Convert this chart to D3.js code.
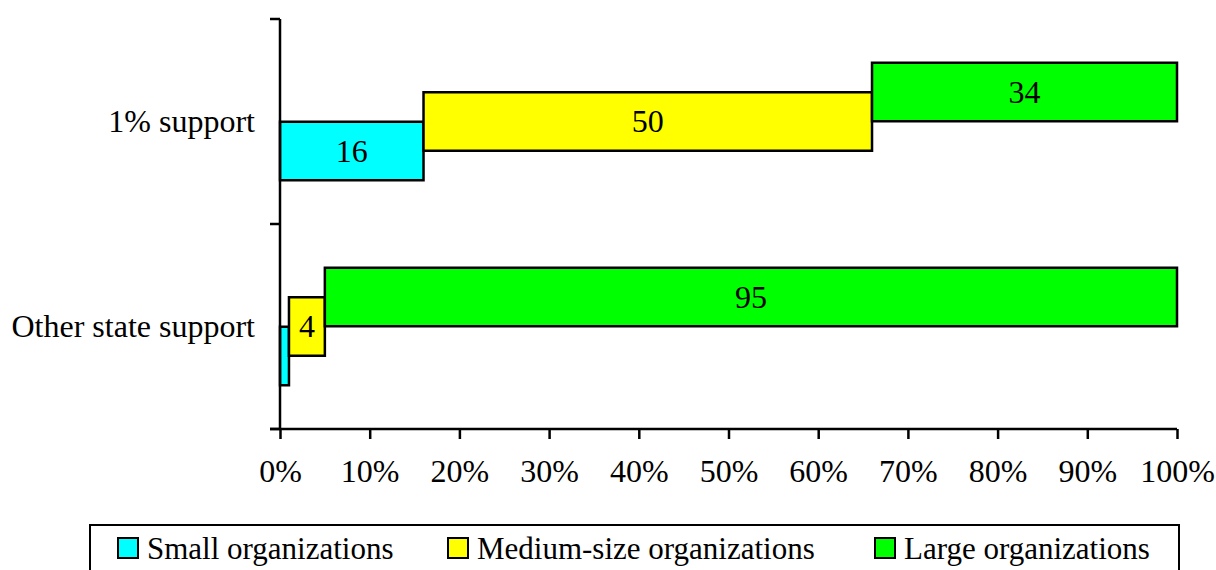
<!DOCTYPE html>
<html>
<head>
<meta charset="utf-8">
<script src="https://cdn.jsdelivr.net/npm/d3@7/dist/d3.min.js"></script>
<style>
  html, body { margin: 0; padding: 0; background: #fff; }
  svg { display: block; }
  svg text { font-family: "Times New Roman", "Liberation Serif", Tinos, "DejaVu Serif", serif; fill: #000; }
</style>
</head>
<body>
<svg id="chart" width="1216" height="570"></svg>
<script>
// Share of support by organization size
const categories = ["1% support", "Other state support"];
const seriesNames = ["Small organizations", "Medium-size organizations", "Large organizations"];
const smallValues = [16, 1];
const mediumValues = [50, 4];
const largeValues = [34, 95];
const seriesColors = ["#00FFFF", "#FFFF00", "#00FF00"];
const xTicks = [0, 10, 20, 30, 40, 50, 60, 70, 80, 90, 100];

const seriesValues = [smallValues, mediumValues, largeValues];

const svg = d3.select("#chart");
const fontSize = 32;
const legendFontSize = 31;
const serif = "'Times New Roman', 'Liberation Serif', Tinos, 'DejaVu Serif', serif";

const x = d3.scaleLinear().domain([0, 100]).range([280, 1177]);
const y = d3.scaleBand().domain(categories).range([19, 429]).paddingInner(0).paddingOuter(0);

// each series sits one half-bar higher than the previous one
const barH = 58.5;
const seriesOffset = d3.scalePoint().domain(seriesNames).range([29.5, -29.5]);

// build stacked segments
const segments = [];
categories.forEach((cat, ci) => {
  let acc = 0;
  seriesNames.forEach((s, si) => {
    const v = seriesValues[si][ci];
    segments.push({ cat, series: s, si, x0: acc, x1: acc + v, value: v });
    acc += v;
  });
});

const bars = svg.append("g");
bars.selectAll("rect")
  .data(segments)
  .join("rect")
  .attr("x", d => x(d.x0))
  .attr("width", d => x(d.x1) - x(d.x0))
  .attr("y", d => y(d.cat) + y.bandwidth() / 2 + seriesOffset(d.series) - barH / 2)
  .attr("height", barH)
  .attr("fill", d => seriesColors[d.si])
  .attr("stroke", "#000")
  .attr("stroke-width", 2.5);

// value labels, only where the segment is wide enough
bars.selectAll("text")
  .data(segments.filter(d => x(d.x1) - x(d.x0) > 20))
  .join("text")
  .attr("x", d => (x(d.x0) + x(d.x1)) / 2)
  .attr("y", d => y(d.cat) + y.bandwidth() / 2 + seriesOffset(d.series))
  .attr("dy", "0.34em")
  .attr("text-anchor", "middle")
  .attr("font-family", serif)
  .attr("font-size", fontSize)
  .text(d => d.value);

// x axis
const xAxis = svg.append("g")
  .attr("transform", `translate(0,${y.range()[1]})`)
  .call(d3.axisBottom(x).tickValues(xTicks).tickSize(10).tickPadding(20).tickFormat(d => d + "%"));
xAxis.attr("font-family", serif);
xAxis.select(".domain").attr("d", `M270,0H${x(100)}`).attr("stroke", "#000").attr("stroke-width", 2.5);
xAxis.selectAll(".tick line").attr("stroke", "#000").attr("stroke-width", 2.5);
xAxis.selectAll(".tick text").attr("font-size", fontSize).attr("font-family", serif).attr("fill", "#000");

// y axis: boundaries between categories carry tick marks
const yAxisG = svg.append("g").attr("transform", `translate(${x(0)},0)`);
yAxisG.append("line")
  .attr("x1", 0).attr("x2", 0)
  .attr("y1", y.range()[0]).attr("y2", y.range()[1])
  .attr("stroke", "#000").attr("stroke-width", 2.5);
const boundaries = categories.map(c => y(c)).concat([y.range()[1]]);
yAxisG.selectAll(".btick")
  .data(boundaries)
  .join("line")
  .attr("x1", -10).attr("x2", 0)
  .attr("y1", d => d).attr("y2", d => d)
  .attr("stroke", "#000").attr("stroke-width", 2.5);
yAxisG.selectAll(".clabel")
  .data(categories)
  .join("text")
  .attr("x", -25)
  .attr("y", d => y(d) + y.bandwidth() / 2)
  .attr("dy", "0.34em")
  .attr("text-anchor", "end")
  .attr("font-family", serif)
  .attr("font-size", fontSize)
  .text(d => d);

// legend
const legend = svg.append("g");
legend.append("rect")
  .attr("x", 90).attr("y", 525)
  .attr("width", 1089).attr("height", 80)
  .attr("fill", "none").attr("stroke", "#000").attr("stroke-width", 2);
const legendX = [118, 448, 875];
const items = legend.selectAll(".item")
  .data(seriesNames)
  .join("g")
  .attr("transform", (d, i) => `translate(${legendX[i]},538)`);
items.append("rect")
  .attr("width", 20).attr("height", 20)
  .attr("fill", (d, i) => seriesColors[i])
  .attr("stroke", "#000").attr("stroke-width", 2);
items.append("text")
  .attr("x", 29)
  .attr("y", 21)
  .attr("font-family", serif)
  .attr("font-size", legendFontSize)
  .text(d => d);
</script>
</body>
</html>
